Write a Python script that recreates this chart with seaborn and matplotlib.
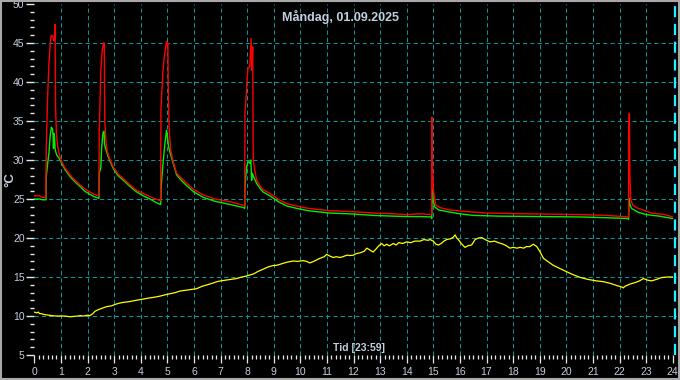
import matplotlib
matplotlib.use("Agg")
import matplotlib.pyplot as plt
import matplotlib.transforms as mtransforms
from matplotlib.ticker import MultipleLocator
from matplotlib.patches import Rectangle
import seaborn as sns
import pandas as pd

# ---- data (hours, °C) ----
red_t = [0.0, 0.2, 0.3, 0.43, 0.45, 0.50, 0.55, 0.60, 0.64, 0.70, 0.73, 0.76, 0.78, 0.80, 0.83, 0.87,
         0.92, 1.0, 1.15, 1.34, 1.5, 1.72, 1.9, 2.09, 2.25, 2.42,
         2.43, 2.44, 2.50, 2.55, 2.60, 2.62, 2.63, 2.65, 2.70, 2.75, 2.85, 2.97, 3.15, 3.35, 3.6, 3.85,
         4.1, 4.35, 4.55, 4.74,
         4.75, 4.76, 4.83, 4.88, 4.94, 4.97, 5.0, 5.02, 5.04, 5.07, 5.12, 5.2, 5.35, 5.55, 5.73, 6.0,
         6.36, 6.8, 7.36, 7.86, 7.91,
         7.92, 7.98, 8.03, 8.10, 8.15, 8.17, 8.21, 8.23, 8.30, 8.36, 8.5, 8.6, 8.86, 9.2, 9.5, 9.86,
         10.3, 11.1, 11.85, 12.74, 13.5, 14.0, 14.5, 14.93,
         14.94, 14.95, 14.97, 15.0, 15.05, 15.1, 15.25, 15.6, 16.2, 17.0, 18.5, 20.5, 21.5, 22.33,
         22.34, 22.35, 22.37, 22.39, 22.42, 22.5, 22.7, 23.2, 23.7, 24.0]
red_v = [25.4, 25.4, 25.2, 25.2, 31.5, 38.0, 42.4, 45.0, 46.0, 45.8, 45.3, 45.4, 47.4, 36.8, 33.5, 32.0,
         31.0, 30.0, 29.0, 28.1, 27.5, 26.8, 26.3, 25.9, 25.6, 25.4,
         25.4, 33.5, 41.3, 43.9, 45.0, 44.6, 45.0, 34.9, 32.1, 31.0, 30.0, 29.1, 28.2, 27.6, 26.8, 26.1,
         25.7, 25.3, 25.0, 24.8,
         24.8, 36.4, 41.1, 43.0, 44.5, 45.2, 44.6, 45.0, 38.0, 33.8, 31.5, 30.0, 28.3, 27.6, 27.0, 26.2,
         25.5, 25.0, 24.65, 24.2, 24.1,
         36.0, 39.0, 41.8, 42.0, 45.6, 41.5, 44.5, 30.0, 28.5, 27.4, 26.6, 26.2, 25.7, 24.9, 24.4, 24.1,
         23.8, 23.5, 23.4, 23.2, 23.1, 23.0, 23.1, 23.0,
         23.0, 35.5, 29.1, 26.4, 24.9, 24.2, 23.9, 23.6, 23.4, 23.2, 23.1, 23.0, 22.9, 22.7,
         22.7, 34.5, 36.0, 27.9, 25.0, 24.2, 23.8, 23.2, 23.0, 22.7]

green_t = [0.0, 0.2, 0.3, 0.44, 0.45, 0.50, 0.55, 0.60, 0.64, 0.68, 0.71, 0.72, 0.74, 0.76, 0.78, 0.80,
           0.85, 0.92, 1.0, 1.15, 1.34, 1.5, 1.72, 1.9, 2.09, 2.25, 2.42,
           2.43, 2.44, 2.50, 2.53, 2.58, 2.62, 2.64, 2.68, 2.75, 2.85, 2.97, 3.15, 3.35, 3.6, 3.85, 4.1,
           4.35, 4.55, 4.74,
           4.75, 4.77, 4.83, 4.90, 4.97, 5.0, 5.04, 5.1, 5.2, 5.35, 5.55, 5.73, 6.0, 6.36, 6.8, 7.36,
           7.86, 7.91,
           7.92, 7.98, 8.03, 8.10, 8.14, 8.17, 8.20, 8.25, 8.36, 8.5, 8.6, 8.86, 9.2, 9.5, 9.86, 10.3,
           11.1, 11.85, 12.74, 13.5, 14.0, 14.5, 14.93,
           14.94, 14.95, 14.97, 15.0, 15.05, 15.2, 15.5, 16.0, 16.5, 17.5, 19.0, 20.5, 21.5, 22.33,
           22.34, 22.36, 22.39, 22.45, 22.7, 23.0, 23.5, 24.0]
green_v = [25.0, 25.0, 24.9, 24.9, 27.9, 29.5, 30.9, 33.2, 34.2, 34.0, 33.0, 31.5, 33.4, 33.0, 31.5, 31.1,
           30.6, 30.3, 29.8, 28.8, 27.9, 27.3, 26.6, 26.0, 25.6, 25.3, 25.1,
           25.1, 28.3, 29.0, 31.5, 33.5, 33.7, 32.0, 31.5, 30.7, 29.8, 28.9, 28.0, 27.4, 26.6, 25.9, 25.4,
           25.0, 24.6, 24.3,
           24.3, 26.6, 29.2, 31.8, 33.8, 33.2, 31.8, 31.0, 29.8, 28.1, 27.3, 26.7, 25.9, 25.2, 24.7, 24.3,
           23.9, 23.8,
           26.6, 29.1, 29.8, 29.6, 30.0, 27.4, 28.3, 27.8, 27.0, 26.3, 25.9, 25.4, 24.6, 24.1, 23.8, 23.5,
           23.2, 23.1, 22.9, 22.8, 22.75, 22.75, 22.7,
           22.5, 24.0, 26.4, 24.7, 24.0, 23.6, 23.4, 23.1, 22.9, 22.8, 22.75, 22.7, 22.6, 22.5,
           22.4, 25.1, 24.3, 23.8, 23.3, 23.0, 22.8, 22.5]

yellow_t = [0.00, 0.10, 0.15, 0.20, 0.28, 0.35, 0.45, 0.55, 0.65, 0.8, 0.97, 1.1, 1.25, 1.34, 1.5, 1.65,
            1.72, 1.85, 2.0, 2.09, 2.2, 2.28, 2.4, 2.55, 2.72, 2.9, 3.05, 3.2, 3.35, 3.5, 3.65, 3.8,
            3.97, 4.15, 4.3, 4.5, 4.73, 4.9, 5.1, 5.3, 5.48, 5.7, 5.9, 6.1, 6.3, 6.5, 6.7, 6.86, 7.0,
            7.2, 7.4, 7.6, 7.8, 7.95, 8.1, 8.25, 8.4, 8.6, 8.8, 8.95, 9.11, 9.3, 9.5, 9.74, 9.9, 10.1,
            10.24, 10.36, 10.5, 10.74, 10.9, 10.99, 11.1, 11.24, 11.35, 11.49, 11.6, 11.75, 11.87,
            12.0, 12.1, 12.25, 12.4, 12.5, 12.6, 12.74, 12.85, 12.95, 13.06, 13.15, 13.25, 13.35,
            13.5, 13.6, 13.7, 13.85, 14.0, 14.15, 14.3, 14.5, 14.65, 14.8, 14.88, 15.0, 15.1, 15.19,
            15.3, 15.4, 15.5, 15.65, 15.75, 15.82, 15.88, 15.94, 16.05, 16.19, 16.3, 16.44, 16.57,
            16.7, 16.82, 16.95, 17.13, 17.3, 17.45, 17.63, 17.75, 17.88, 18.0, 18.15, 18.26, 18.4,
            18.5, 18.63, 18.76, 18.89, 19.0, 19.14, 19.3, 19.51, 19.75, 20.0, 20.25, 20.52, 20.8,
            21.14, 21.4, 21.64, 21.9, 22.1, 22.14, 22.2, 22.4, 22.6, 22.75, 22.9, 23.05, 23.2, 23.4,
            23.55, 23.65, 23.8, 24.0]
yellow_v = [10.5, 10.4, 10.5, 10.3, 10.3, 10.2, 10.15, 10.1, 10.05, 10.0, 10.0, 10.0, 9.95, 9.9, 9.95, 10.0,
            10.05, 10.0, 10.1, 10.05, 10.3, 10.6, 10.8, 11.0, 11.2, 11.3, 11.5, 11.65, 11.75, 11.8, 11.9,
            12.0, 12.1, 12.2, 12.3, 12.4, 12.55, 12.7, 12.85, 13.0, 13.2, 13.3, 13.4, 13.5, 13.8, 14.0,
            14.2, 14.4, 14.5, 14.6, 14.7, 14.8, 15.0, 15.1, 15.25, 15.4, 15.7, 16.0, 16.3, 16.45, 16.5,
            16.7, 16.9, 17.05, 17.0, 17.1, 17.0, 16.8, 17.0, 17.4, 17.6, 17.9, 17.7, 17.5, 17.6, 17.5,
            17.6, 17.8, 17.75, 17.8, 18.0, 18.1, 18.3, 18.7, 18.5, 18.2, 18.6, 19.0, 19.3, 19.0, 19.2,
            19.0, 19.3, 19.1, 19.4, 19.3, 19.5, 19.4, 19.6, 19.6, 19.8, 19.7, 19.8, 19.6, 19.2, 19.1,
            19.3, 19.6, 19.8, 19.9, 20.1, 20.4, 20.0, 19.8, 19.3, 18.8, 19.0, 19.1, 19.8, 20.0, 20.05,
            19.8, 19.5, 19.6, 19.4, 19.2, 19.0, 18.7, 18.8, 18.7, 18.8, 18.7, 18.9, 18.9, 19.2, 18.9,
            18.3, 17.4, 17.0, 16.5, 16.1, 15.7, 15.3, 14.95, 14.7, 14.5, 14.4, 14.2, 13.9, 13.7, 13.6,
            13.8, 14.1, 14.3, 14.5, 14.8, 14.6, 14.5, 14.7, 14.9, 14.95, 15.0, 15.0]

x_ticks = list(range(0, 25))
y_ticks = list(range(5, 51, 5))
title = "Måndag, 01.09.2025"
xlabel = "Tid [23:59]"
ylabel = "°C"

# ---- styling ----
sns.set_theme(style="ticks")
plt.rcParams["font.family"] = ["Liberation Sans", "DejaVu Sans"]

W, H = 680, 380
fig = plt.figure(figsize=(W / 100, H / 100), dpi=100, facecolor="black")
left_px, right_px, top_px, bottom_px = 34.3, 676.7, 4.0, 355.0
ax_w_px, ax_h_px = right_px - left_px, bottom_px - top_px
ax = fig.add_axes([left_px / W, 1 - bottom_px / H, ax_w_px / W, ax_h_px / H])
ax.set_facecolor("black")

grid_col = "#0a9696"
for xv in range(1, 24):
    ax.axvline(xv, color=grid_col, lw=0.75, ls=(0, (4, 3)), zorder=1)
for yv in range(10, 50, 5):
    ax.axhline(yv, color=grid_col, lw=0.75, ls=(0, (4, 3)), zorder=1)
ax.axvline(24.07, color="#20f0ff", lw=1.6, ls=(0, (5, 3)), zorder=1)

df_r = pd.DataFrame({"t": red_t, "v": red_v})
df_g = pd.DataFrame({"t": green_t, "v": green_v})
df_y = pd.DataFrame({"t": yellow_t, "v": yellow_v})
sns.lineplot(data=df_g, x="t", y="v", ax=ax, color="#00ee00", lw=1.0, estimator=None, sort=False, zorder=3)
sns.lineplot(data=df_r, x="t", y="v", ax=ax, color="#ff0000", lw=1.0, estimator=None, sort=False, zorder=4)
sns.lineplot(data=df_y, x="t", y="v", ax=ax, color="#ffff00", lw=0.9, estimator=None, sort=False, zorder=3)

ax.set_xlim(0, 24.15)
ax.set_ylim(5, 50)
ax.grid(False)
for s in ax.spines.values():
    s.set_color("none")

ax.set_xticks(x_ticks)
ax.set_xticklabels([str(v) for v in x_ticks])
ax.set_yticks(y_ticks)
ax.set_yticklabels([str(v) for v in y_ticks])
ax.xaxis.set_minor_locator(MultipleLocator(1 / 6))
ax.yaxis.set_minor_locator(MultipleLocator(1))
lab_col = "#c4cede"
ax.tick_params(axis="both", which="both", length=0)
ax.tick_params(axis="both", which="major", labelcolor=lab_col, labelsize=7.5)
ax.tick_params(axis="x", which="major", pad=8.5)
ax.tick_params(axis="y", which="major", pad=7.0)
ax.set_xlabel("")
ax.set_ylabel("")

# tick marks drawn explicitly (white, out-facing)
tick_col = "#e8e8e8"
xtr = mtransforms.blended_transform_factory(ax.transData, ax.transAxes)
ytr = mtransforms.blended_transform_factory(ax.transAxes, ax.transData)
x_minor = [v for v in ax.xaxis.get_minorticklocs() if 0 <= v <= 24.01 and abs(v - round(v)) > 1e-6]
y_minor = [v for v in ax.yaxis.get_minorticklocs() if 5 <= v <= 50 and abs(v / 5 - round(v / 5)) > 1e-6]
ax.vlines(x_ticks, -8 / ax_h_px, 0, transform=xtr, color=tick_col, lw=0.9, clip_on=False, zorder=5)
ax.vlines(x_minor, -4 / ax_h_px, 0, transform=xtr, color=tick_col, lw=0.9, clip_on=False, zorder=5)
ax.hlines(y_ticks, -8 / ax_w_px, 0, transform=ytr, color=tick_col, lw=1.0, clip_on=False, zorder=5)
ax.hlines(y_minor, -4 / ax_w_px, 0, transform=ytr, color=tick_col, lw=1.0, clip_on=False, zorder=5)

fig.text(341 / W, 1 - 17 / H, title, color=lab_col, fontsize=9, fontweight="bold", ha="center", va="center")
fig.text(359 / W, 1 - 348 / H, xlabel, color=lab_col, fontsize=7.5, fontweight="bold", ha="center", va="center")
fig.text(10 / W, 1 - 180 / H, ylabel, color=lab_col, fontsize=9.5, fontweight="bold", ha="center", va="center",
         rotation=90)

fig.patches.append(Rectangle((0.0015, 0.0025), 0.997, 0.995, transform=fig.transFigure, fill=False,
                             edgecolor="#a8a8a8", lw=1.5, zorder=10))

fig.savefig("out.png", dpi=100, facecolor="black")

# sanity check: the y tick marks must be visible left of the plot area
import matplotlib.image as mimg
img = mimg.imread("out.png")
patch = img[38:48, 25:34, :3]
if patch.max() < 0.5:
    raise RuntimeError("y tick marks not visible; max=%.3f" % patch.max())
